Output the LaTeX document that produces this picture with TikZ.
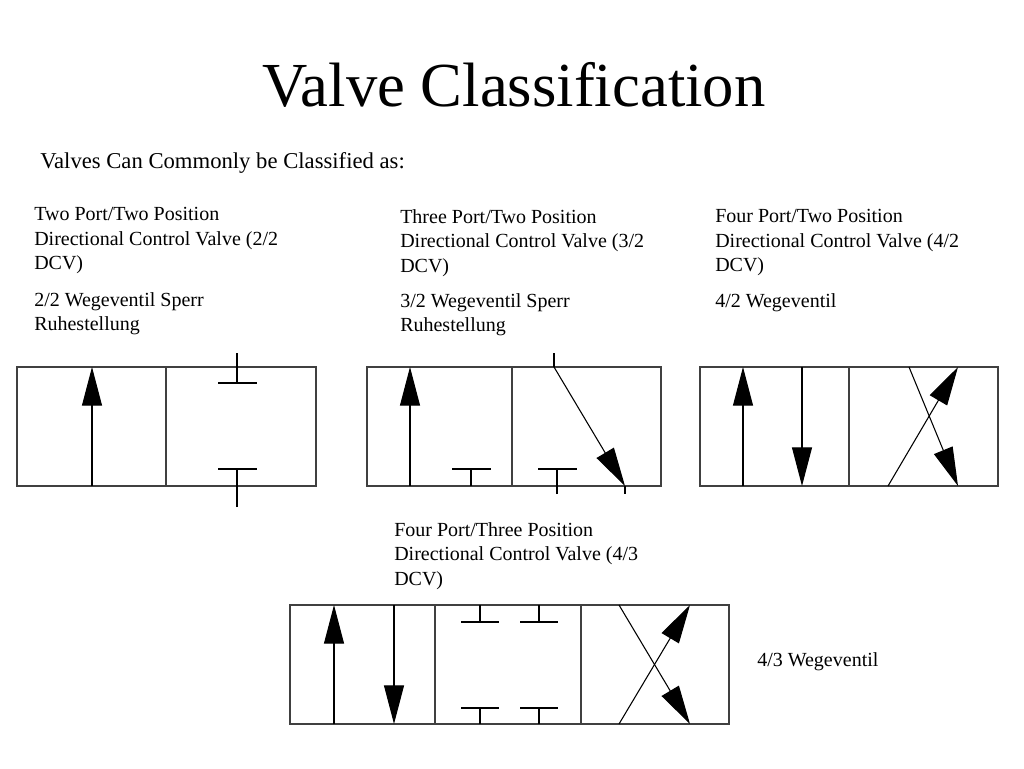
\documentclass[tikz,border=0pt]{standalone}
\usepackage{fontspec}
\setmainfont{Liberation Serif}
\usetikzlibrary{arrows.meta}
\begin{document}
\begin{tikzpicture}[x=0.75pt,y=-0.75pt,
  vbox/.style={draw=black!75,line width=1pt},
  ln/.style={draw=black,line width=0.8pt},
  arr/.style={ln,-{Triangle[width=15pt,length=29pt]}},
  txt/.style={anchor=north west,align=left,inner sep=0pt,font=\fontsize{15pt}{18.4pt}\selectfont}]
\useasboundingbox (0,0) rectangle (1024,768);
\node (title) at (514,85) {\fontsize{47pt}{52pt}\selectfont Valve Classification};
\node[anchor=west,inner sep=0pt] (sub) at (40,163) {\fontsize{17pt}{20pt}\selectfont Valves Can Commonly be Classified as:};
\node[txt] (t1) at (34,207) {Two Port/Two Position\\Directional Control Valve (2/2\\DCV)};
\node[txt] (t1b) at (34,292) {2/2 Wegeventil Sperr\\Ruhestellung};
\node[txt] (t2) at (400,209) {Three Port/Two Position\\Directional Control Valve (3/2\\DCV)};
\node[txt] (t2b) at (400,293) {3/2 Wegeventil Sperr\\Ruhestellung};
\node[txt] (t3) at (715,209) {Four Port/Two Position\\Directional Control Valve (4/2\\DCV)};
\node[txt] (t3b) at (715,293) {4/2 Wegeventil};
\node[txt] (t4) at (394,522) {Four Port/Three Position\\Directional Control Valve (4/3\\DCV)};
\node[txt,anchor=west] (t4b) at (757,662) {4/3 Wegeventil};
% valve 1
\draw[vbox] (17,367) rectangle (316,486) (166,367) -- (166,486);
\draw[arr] (92,486) -- (92,367);
\draw[ln] (237,353) -- (237,383) (218,383) -- (257,383);
\draw[ln] (237,507) -- (237,469) (218,469) -- (257,469);
% valve 2
\draw[vbox] (367,367) rectangle (661,486) (512,367) -- (512,486);
\draw[arr] (410,486) -- (410,367);
\draw[ln] (471,486) -- (471,469) (452,469) -- (491,469);
\draw[ln] (557,494) -- (557,469) (538,469) -- (577,469);
\draw[ln] (554,353) -- (554,367) (625,486) -- (625,494);
\draw[arr] (554,367) -- (625,486);
% valve 3
\draw[vbox] (700,367) rectangle (998,486) (849,367) -- (849,486);
\draw[arr] (743,486) -- (743,367);
\draw[arr] (802,367) -- (802,486);
\draw[arr] (888,486) -- (958,367);
\draw[arr] (909,367) -- (958,486);
% valve 4
\draw[vbox] (290,605) rectangle (729,724) (435,605) -- (435,724) (581,605) -- (581,724);
\draw[arr] (334,724) -- (334,605);
\draw[arr] (394,605) -- (394,724);
\draw[ln] (480,605) -- (480,622) (461,622) -- (499,622);
\draw[ln] (539,605) -- (539,622) (520,622) -- (558,622);
\draw[ln] (480,724) -- (480,708) (461,708) -- (499,708);
\draw[ln] (539,724) -- (539,708) (520,708) -- (558,708);
\draw[arr] (619,605) -- (690,724);
\draw[arr] (619,724) -- (690,605);
\end{tikzpicture}
\end{document}
